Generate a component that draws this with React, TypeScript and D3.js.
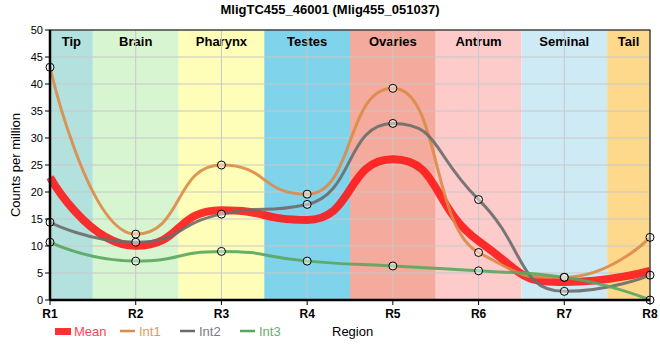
import * as d3 from 'd3';
import React from 'react';

// regions along the body, and their band colours
const regions = ['R1', 'R2', 'R3', 'R4', 'R5', 'R6', 'R7', 'R8'];
const bandNames = ['Tip', 'Brain', 'Pharynx', 'Testes', 'Ovaries', 'Antrum', 'Seminal', 'Tail'];
const bandColors = ['#b3e2de', '#d7f5d1', '#fefeb8', '#7fd3eb', '#f4aa9c', '#fecbcb', '#ceebf5', '#fed98b'];

// expression per replicate (counts per million)
const int1 = [43.1, 12.2, 25.0, 19.6, 39.2, 8.8, 4.2, 11.6];
const int2 = [14.4, 10.7, 15.9, 17.7, 32.7, 18.6, 1.6, 4.6];
const int3 = [10.7, 7.2, 9.0, 7.2, 6.3, 5.4, 4.2, 0.0];
const mean = int1.map((v, i) => (v + int2[i] + int3[i]) / 3);

const yTicks = [0, 5, 10, 15, 20, 25, 30, 35, 40, 45, 50];

const series = [
  { name: 'Int1', values: int1, color: '#dc8b48', text: '#e59a60', width: 3 },
  { name: 'Int2', values: int2, color: '#6b6b6b', text: '#7a7a88', width: 3 },
  { name: 'Int3', values: int3, color: '#5aa65e', text: '#6aae70', width: 3 },
];

type Pt = [number, number];

// spline with long control arms, flattened at local extremes (no overshoot)
const ARM = 0.55;

function splinePath(pts: Pt[]) {
  const ctl: { l?: Pt; r?: Pt }[] = pts.map(() => ({}));
  for (let i = 1; i < pts.length - 1; i++) {
    const [px, py] = pts[i];
    const [lx, ly] = pts[i - 1];
    const [nx, ny] = pts[i + 1];
    const lcx = px + ARM * (lx - px);
    const rcx = px + ARM * (nx - px);
    let lcy = py + ARM * (ly - py);
    let rcy = py + ARM * (ny - py);
    const corr = ((rcy - lcy) * (rcx - px)) / (rcx - lcx) + py - rcy;
    lcy += corr;
    rcy += corr;
    if (lcy > ly && lcy > py) {
      lcy = Math.max(ly, py);
      rcy = 2 * py - lcy;
    } else if (lcy < ly && lcy < py) {
      lcy = Math.min(ly, py);
      rcy = 2 * py - lcy;
    }
    if (rcy > ny && rcy > py) {
      rcy = Math.max(ny, py);
      lcy = 2 * py - rcy;
    } else if (rcy < ny && rcy < py) {
      rcy = Math.min(ny, py);
      lcy = 2 * py - rcy;
    }
    ctl[i] = { l: [lcx, lcy], r: [rcx, rcy] };
  }
  const p = d3.path();
  p.moveTo(pts[0][0], pts[0][1]);
  for (let i = 1; i < pts.length; i++) {
    const a = ctl[i - 1].r || pts[i - 1];
    const b = ctl[i].l || pts[i];
    p.bezierCurveTo(a[0], a[1], b[0], b[1], pts[i][0], pts[i][1]);
  }
  return p.toString();
}

export default function App() {
  const width = 660;
  const height = 360;
  const margin = { top: 30, right: 10, bottom: 60, left: 50 };
  const innerW = width - margin.left - margin.right;
  const innerH = height - margin.top - margin.bottom;

  const x = d3.scalePoint<string>().domain(regions).range([0, innerW]);
  const y = d3.scaleLinear().domain([0, 50]).range([innerH, 0]);
  const step = x.step();

  const line = (vals: number[]) => splinePath(vals.map((v, i) => [x(regions[i]) as number, y(v)] as Pt));

  const font = 'Arial, "Liberation Sans", sans-serif';

  return (
    <svg width={width} height={height} style={{ position: 'absolute', left: 0, top: 0 }} fontFamily={font}>
      <text x={width / 2} y={14} textAnchor="middle" fontSize={13} fontWeight="bold">
        MligTC455_46001 (Mlig455_051037)
      </text>
      <g transform={`translate(${margin.left},${margin.top})`}>
        {/* region bands */}
        {bandNames.map((b, i) => {
          const cx = x(regions[i]) as number;
          const x0 = Math.max(0, cx - step / 2);
          const x1 = Math.min(innerW, cx + step / 2);
          return (
            <g key={b}>
              <rect x={x0} y={0} width={x1 - x0} height={innerH} fill={bandColors[i]} />
              <text x={(x0 + x1) / 2} y={16} textAnchor="middle" fontSize={13} fontWeight="bold">
                {b}
              </text>
            </g>
          );
        })}
        {/* grid */}
        {yTicks.map(t => (
          <line key={t} x1={0} x2={innerW} y1={y(t)} y2={y(t)} stroke="#c8c8c8" strokeWidth={1} />
        ))}
        {regions.map(r => (
          <line key={r} x1={x(r)} x2={x(r)} y1={0} y2={innerH} stroke="#c8c8c8" strokeWidth={1} />
        ))}
        {/* lines */}
        <path d={line(mean)} fill="none" stroke="#ff1a1a" strokeOpacity={0.9} strokeWidth={8} />
        {series.map(s => (
          <path key={s.name} d={line(s.values)} fill="none" stroke={s.color} strokeOpacity={0.9} strokeWidth={s.width} />
        ))}
        {series.map(s =>
          s.values.map((v, i) => (
            <circle
              key={s.name + i}
              cx={x(regions[i])}
              cy={y(v)}
              r={4}
              fill="#ffffff"
              fillOpacity={0.45}
              stroke="#000"
              strokeWidth={1}
            />
          ))
        )}
        {/* frame and axes */}
        <rect x={0} y={0} width={innerW} height={innerH} fill="none" stroke="#000" strokeWidth={1} />
        <line x1={0} x2={0} y1={0} y2={innerH} stroke="#000" strokeWidth={2.5} />
        <line x1={0} x2={innerW} y1={innerH} y2={innerH} stroke="#000" strokeWidth={2.5} />
        {yTicks.map(t => (
          <g key={t}>
            <line x1={-5} x2={0} y1={y(t)} y2={y(t)} stroke="#000" />
            <text x={-7} y={y(t)} dy="0.35em" textAnchor="end" fontSize={11}>
              {t}
            </text>
          </g>
        ))}
        {regions.map(r => (
          <g key={r}>
            <line x1={x(r)} x2={x(r)} y1={innerH} y2={innerH + 5} stroke="#000" />
            <text x={x(r)} y={innerH + 18} textAnchor="middle" fontSize={12} fontWeight="bold">
              {r}
            </text>
          </g>
        ))}
        <text
          transform={`translate(${-30},${innerH / 2}) rotate(-90)`}
          textAnchor="middle"
          fontSize={13}
        >
          Counts per million
        </text>
        {/* legend */}
        <g transform={`translate(0,${innerH + 31})`}>
          <rect x={5} y={-3} width={16} height={7} fill="#ff1a1a" fillOpacity={0.9} />
          <text x={24} y={0} dy="0.35em" fontSize={13} fill="#ff4455">
            Mean
          </text>
          {series.map((s, i) => (
            <g key={s.name} transform={`translate(${70 + i * 60},0)`}>
              <line x1={0} x2={15} y1={0} y2={0} stroke={s.color} strokeWidth={2.5} />
              <text x={19} y={0} dy="0.35em" fontSize={13} fill={s.text}>
                {s.name}
              </text>
            </g>
          ))}
          <text x={282} y={0} dy="0.35em" fontSize={13} fill="#000">
            Region
          </text>
        </g>
      </g>
    </svg>
  );
}
